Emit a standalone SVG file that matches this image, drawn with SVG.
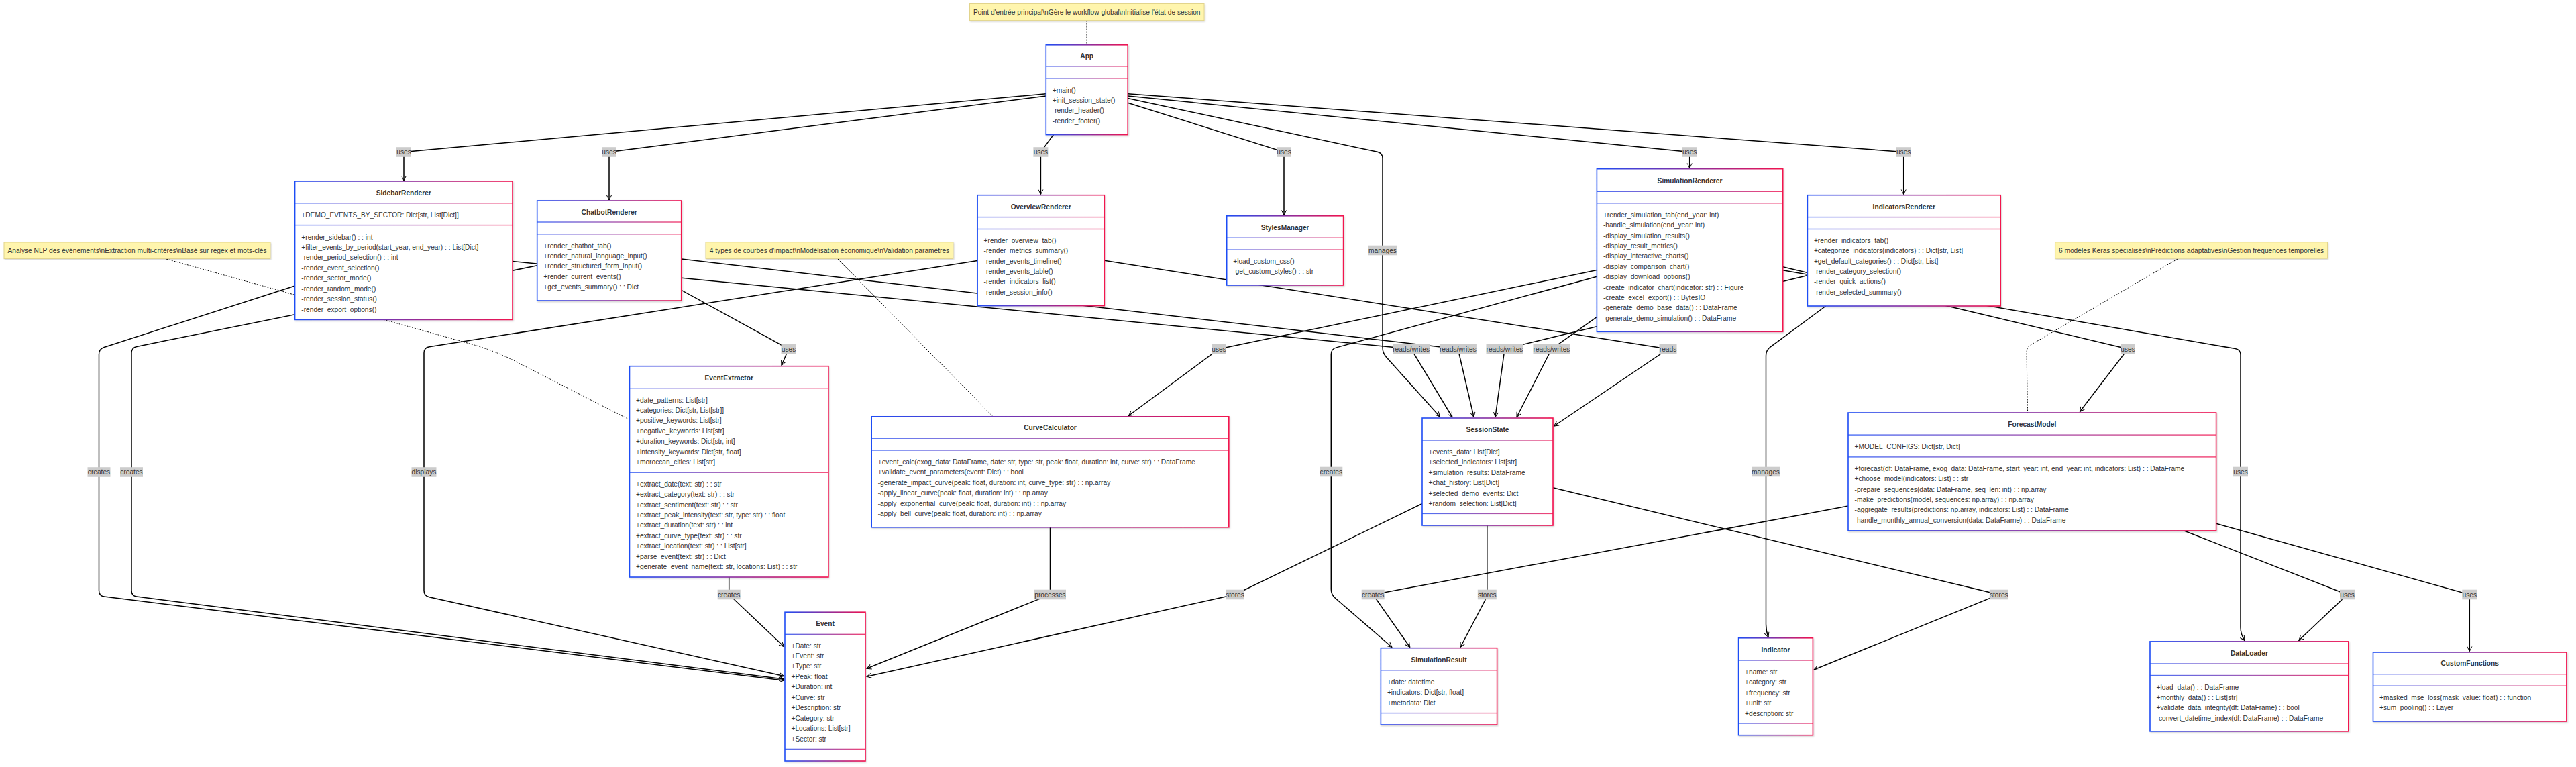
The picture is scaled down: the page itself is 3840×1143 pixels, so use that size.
<svg xmlns="http://www.w3.org/2000/svg" width="3840" height="1143" viewBox="0 0 3840 1143">
<style>
.box{fill:#fff;stroke:url(#bg);stroke-width:1.6;filter:url(#sh)}
.dv{fill:url(#bg);opacity:.8}
.ti{font:bold 10.2px "Liberation Sans",Arial,sans-serif;fill:#333;text-anchor:middle;dominant-baseline:central}
.mb{font:10.2px "Liberation Sans",Arial,sans-serif;fill:#333;dominant-baseline:central}
.e{fill:none;stroke:#000;stroke-width:1.5;marker-end:url(#ar)}
.d{fill:none;stroke:#000;stroke-width:1;stroke-dasharray:2 2}
.lb rect{fill:#ccc}
.lb text{font:10.2px "Liberation Sans",Arial,sans-serif;fill:#333;text-anchor:middle;dominant-baseline:central}
.nr{fill:#fff5ad;stroke:#e2d48c;stroke-width:1;filter:url(#sh)}
.nt{font:10.2px "Liberation Sans",Arial,sans-serif;fill:#333;text-anchor:middle;dominant-baseline:central}
</style>
<defs>
<linearGradient id="bg" x1="0" y1="0" x2="1" y2="0"><stop offset="0" stop-color="#1f4df5"/><stop offset="1" stop-color="#f2124e"/></linearGradient>
<filter id="sh" x="-5%" y="-5%" width="110%" height="115%"><feDropShadow dx="1" dy="1.5" stdDeviation="1.2" flood-color="#000" flood-opacity="0.18"/></filter>
<marker id="ar" markerUnits="userSpaceOnUse" markerWidth="10" markerHeight="10" refX="8" refY="4.5" orient="auto"><path d="M1,1 L8,4.5 L1,8" fill="none" stroke="#000" stroke-width="1"/></marker>
</defs>
<rect width="3840" height="1143" fill="#fff"/>
<g id="connectors">
<path class="d" d="M1620,30.6 L1620,66.8"/>
<path class="d" d="M248,386 L700,512 Q740,523 775,542 L938.5,625.5"/>
<path class="d" d="M1249,386 L1480.4,620.8"/>
<path class="d" d="M3246,386 L3027,514 Q3021,518 3021,526 L3022.6,615"/>
<path class="e" d="M1559.3,139.7 L602,226.5 L602,269"/>
<path class="e" d="M1559.3,143 L908,226.5 L908,298"/>
<path class="e" d="M1570.4,200.6 L1551.4,226.5 L1551.4,289.5"/>
<path class="e" d="M1681.2,153.2 L1914,226.5 L1914,320.5"/>
<path class="e" d="M1681.2,143 L2518.7,226.5 L2518.7,250.5"/>
<path class="e" d="M1681.2,139.7 L2837.7,226.5 L2837.7,289.5"/>
<path class="e" d="M1681.2,146.6 L2053.2,226.3 Q2061,228 2061,236 L2061,518 Q2061,526 2066.4,531.9 L2146.4,621"/>
<path class="e" d="M439.6,426 L155.1,517.5 Q147.5,520 147.5,528 L147.5,880 Q147.5,888 155.4,889 L1168.5,1014"/>
<path class="e" d="M800.7,395.8 L203.8,516.4 Q196,518 196,526 L196,880 Q196,888 203.9,889 L1168.5,1012"/>
<path class="e" d="M1457,388.5 L639.9,516.8 Q632,518 632,526 L632,880 Q632,888 639.8,889.7 L1168.5,1007.5"/>
<path class="e" d="M1015.7,432.3 L1175.5,520 L1165,544.5"/>
<path class="e" d="M764,389.6 L2103.6,520 L2164.8,621.5"/>
<path class="e" d="M1015.7,386 L2173.4,520 L2197,621.5"/>
<path class="e" d="M2694.4,410.4 L2243,520 L2229,621.5"/>
<path class="e" d="M2380.4,472.4 L2313,520 L2261,621.5"/>
<path class="e" d="M1646.3,388.3 L2486.5,520 L2316.5,635"/>
<path class="e" d="M2380.4,402.5 L1817,520 L1682.4,619.5"/>
<path class="e" d="M2380.4,412.2 L1992,517.9 Q1984.3,520 1984.3,528 L1984.3,878 Q1984.3,886 1990.4,891.2 L2074.9,964.5"/>
<path class="e" d="M2657.7,397.7 L3172,520 L3100.4,613.5"/>
<path class="e" d="M2657.7,402.7 L3332.1,519.6 Q3340,521 3340,529 L3340,935 Q3340,945 3346,954.5"/>
<path class="e" d="M2721.7,456 L2638.9,517.2 Q2632.5,522 2632.5,530 L2632.5,930 Q2632.5,940 2636,949.5"/>
<path class="e" d="M1086.7,860 L1086.7,886 L1168.5,963.5"/>
<path class="e" d="M1565.5,785.8 L1565.5,886 L1292,996.3"/>
<path class="e" d="M2120,750.5 L1841,886 L1292,1008.3"/>
<path class="e" d="M2755,754.1 L2046.7,886 L2101.8,964.5"/>
<path class="e" d="M2216.8,783 L2216.8,878 Q2216.8,886 2214,894 L2177,964.5"/>
<path class="e" d="M2315,726.8 L2979.8,886 L2704,998"/>
<path class="e" d="M3255.9,791 L3499,886 L3426.7,954.5"/>
<path class="e" d="M3303.6,780.3 L3681.3,886 L3681.3,970.5"/>
</g>
<g id="node-App">
<rect class="box" x="1559.3" y="66.8" width="121.9" height="133.8"/>
<rect class="dv" x="1559.3" y="98.2" width="121.9" height="1.4"/>
<rect class="dv" x="1559.3" y="116.4" width="121.9" height="1.4"/>
<text class="ti" x="1620.2" y="83.5">App</text>
<text class="mb" x="1568.8" y="134.2">+main()</text>
<text class="mb" x="1568.8" y="149.5">+init_session_state()</text>
<text class="mb" x="1568.8" y="164.9">-render_header()</text>
<text class="mb" x="1568.8" y="180.2">-render_footer()</text>
</g>
<g id="node-SidebarRenderer">
<rect class="box" x="439.6" y="270" width="324.4" height="206.4"/>
<rect class="dv" x="439.6" y="302.1" width="324.4" height="1.4"/>
<rect class="dv" x="439.6" y="334.9" width="324.4" height="1.4"/>
<text class="ti" x="601.8" y="287.5">SidebarRenderer</text>
<text class="mb" x="449.3" y="320.3">+DEMO_EVENTS_BY_SECTOR: Dict[str, List[Dict]]</text>
<text class="mb" x="449.3" y="353">+render_sidebar() : : int</text>
<text class="mb" x="449.3" y="368.5">+filter_events_by_period(start_year, end_year) : : List[Dict]</text>
<text class="mb" x="449.3" y="383.9">-render_period_selection() : : int</text>
<text class="mb" x="449.3" y="399.4">-render_event_selection()</text>
<text class="mb" x="449.3" y="414.8">-render_sector_mode()</text>
<text class="mb" x="449.3" y="430.3">-render_random_mode()</text>
<text class="mb" x="449.3" y="445.7">-render_session_status()</text>
<text class="mb" x="449.3" y="461.2">-render_export_options()</text>
</g>
<g id="node-ChatbotRenderer">
<rect class="box" x="800.7" y="299" width="215" height="149"/>
<rect class="dv" x="800.7" y="330.3" width="215" height="1.4"/>
<rect class="dv" x="800.7" y="348.1" width="215" height="1.4"/>
<text class="ti" x="908.2" y="316">ChatbotRenderer</text>
<text class="mb" x="810.3" y="366">+render_chatbot_tab()</text>
<text class="mb" x="810.3" y="381.3">+render_natural_language_input()</text>
<text class="mb" x="810.3" y="396.7">+render_structured_form_input()</text>
<text class="mb" x="810.3" y="412">+render_current_events()</text>
<text class="mb" x="810.3" y="427.4">+get_events_summary() : : Dict</text>
</g>
<g id="node-OverviewRenderer">
<rect class="box" x="1457.1" y="290.7" width="189.2" height="164.9"/>
<rect class="dv" x="1457.1" y="322.9" width="189.2" height="1.4"/>
<rect class="dv" x="1457.1" y="340.8" width="189.2" height="1.4"/>
<text class="ti" x="1551.7" y="308.3">OverviewRenderer</text>
<text class="mb" x="1466.6" y="358.2">+render_overview_tab()</text>
<text class="mb" x="1466.6" y="373.6">-render_metrics_summary()</text>
<text class="mb" x="1466.6" y="389">-render_events_timeline()</text>
<text class="mb" x="1466.6" y="404.4">-render_events_table()</text>
<text class="mb" x="1466.6" y="419.8">-render_indicators_list()</text>
<text class="mb" x="1466.6" y="435.2">-render_session_info()</text>
</g>
<g id="node-StylesManager">
<rect class="box" x="1828.7" y="321.8" width="173.9" height="103.2"/>
<rect class="dv" x="1828.7" y="353.5" width="173.9" height="1.4"/>
<rect class="dv" x="1828.7" y="371.4" width="173.9" height="1.4"/>
<text class="ti" x="1915.6" y="339.3">StylesManager</text>
<text class="mb" x="1838.2" y="389.2">+load_custom_css()</text>
<text class="mb" x="1838.2" y="404.8">-get_custom_styles() : : str</text>
</g>
<g id="node-SimulationRenderer">
<rect class="box" x="2380.4" y="251.7" width="277.3" height="242.6"/>
<rect class="dv" x="2380.4" y="284.6" width="277.3" height="1.4"/>
<rect class="dv" x="2380.4" y="302.1" width="277.3" height="1.4"/>
<text class="ti" x="2519" y="269.2">SimulationRenderer</text>
<text class="mb" x="2389.9" y="320.3">+render_simulation_tab(end_year: int)</text>
<text class="mb" x="2389.9" y="335.7">-handle_simulation(end_year: int)</text>
<text class="mb" x="2389.9" y="351.1">-display_simulation_results()</text>
<text class="mb" x="2389.9" y="366.5">-display_result_metrics()</text>
<text class="mb" x="2389.9" y="381.9">-display_interactive_charts()</text>
<text class="mb" x="2389.9" y="397.3">-display_comparison_chart()</text>
<text class="mb" x="2389.9" y="412.6">-display_download_options()</text>
<text class="mb" x="2389.9" y="428">-create_indicator_chart(indicator: str) : : Figure</text>
<text class="mb" x="2389.9" y="443.4">-create_excel_export() : : BytesIO</text>
<text class="mb" x="2389.9" y="458.8">-generate_demo_base_data() : : DataFrame</text>
<text class="mb" x="2389.9" y="474.2">-generate_demo_simulation() : : DataFrame</text>
</g>
<g id="node-IndicatorsRenderer">
<rect class="box" x="2694.4" y="290.7" width="287.8" height="165.3"/>
<rect class="dv" x="2694.4" y="322.9" width="287.8" height="1.4"/>
<rect class="dv" x="2694.4" y="340.8" width="287.8" height="1.4"/>
<text class="ti" x="2838.3" y="308.3">IndicatorsRenderer</text>
<text class="mb" x="2703.9" y="358.2">+render_indicators_tab()</text>
<text class="mb" x="2703.9" y="373.6">+categorize_indicators(indicators) : : Dict[str, List]</text>
<text class="mb" x="2703.9" y="389">+get_default_categories() : : Dict[str, List]</text>
<text class="mb" x="2703.9" y="404.4">-render_category_selection()</text>
<text class="mb" x="2703.9" y="419.8">-render_quick_actions()</text>
<text class="mb" x="2703.9" y="435.2">-render_selected_summary()</text>
</g>
<g id="node-EventExtractor">
<rect class="box" x="938.5" y="545.7" width="296.4" height="314.3"/>
<rect class="dv" x="938.5" y="578.6" width="296.4" height="1.4"/>
<rect class="dv" x="938.5" y="703.5" width="296.4" height="1.4"/>
<text class="ti" x="1086.7" y="563">EventExtractor</text>
<text class="mb" x="948" y="596">+date_patterns: List[str]</text>
<text class="mb" x="948" y="611.4">+categories: Dict[str, List[str]]</text>
<text class="mb" x="948" y="626.8">+positive_keywords: List[str]</text>
<text class="mb" x="948" y="642.2">+negative_keywords: List[str]</text>
<text class="mb" x="948" y="657.6">+duration_keywords: Dict[str, int]</text>
<text class="mb" x="948" y="673">+intensity_keywords: Dict[str, float]</text>
<text class="mb" x="948" y="688.4">+moroccan_cities: List[str]</text>
<text class="mb" x="948" y="721.3">+extract_date(text: str) : : str</text>
<text class="mb" x="948" y="736.7">+extract_category(text: str) : : str</text>
<text class="mb" x="948" y="752.1">+extract_sentiment(text: str) : : str</text>
<text class="mb" x="948" y="767.5">+extract_peak_intensity(text: str, type: str) : : float</text>
<text class="mb" x="948" y="782.9">+extract_duration(text: str) : : int</text>
<text class="mb" x="948" y="798.3">+extract_curve_type(text: str) : : str</text>
<text class="mb" x="948" y="813.7">+extract_location(text: str) : : List[str]</text>
<text class="mb" x="948" y="829.1">+parse_event(text: str) : : Dict</text>
<text class="mb" x="948" y="844.5">+generate_event_name(text: str, locations: List) : : str</text>
</g>
<g id="node-CurveCalculator">
<rect class="box" x="1299.2" y="620.8" width="532.6" height="165"/>
<rect class="dv" x="1299.2" y="652.5" width="532.6" height="1.4"/>
<rect class="dv" x="1299.2" y="670.3" width="532.6" height="1.4"/>
<text class="ti" x="1565.5" y="637.9">CurveCalculator</text>
<text class="mb" x="1308.7" y="688.5">+event_calc(exog_data: DataFrame, date: str, type: str, peak: float, duration: int, curve: str) : : DataFrame</text>
<text class="mb" x="1308.7" y="703.9">+validate_event_parameters(event: Dict) : : bool</text>
<text class="mb" x="1308.7" y="719.3">-generate_impact_curve(peak: float, duration: int, curve_type: str) : : np.array</text>
<text class="mb" x="1308.7" y="734.7">-apply_linear_curve(peak: float, duration: int) : : np.array</text>
<text class="mb" x="1308.7" y="750.1">-apply_exponential_curve(peak: float, duration: int) : : np.array</text>
<text class="mb" x="1308.7" y="765.5">-apply_bell_curve(peak: float, duration: int) : : np.array</text>
</g>
<g id="node-Event">
<rect class="box" x="1170" y="912.2" width="120" height="221.8"/>
<rect class="dv" x="1170" y="944.6" width="120" height="1.4"/>
<rect class="dv" x="1170" y="1115.7" width="120" height="1.4"/>
<text class="ti" x="1230" y="929.3">Event</text>
<text class="mb" x="1179.5" y="962">+Date: str</text>
<text class="mb" x="1179.5" y="977.5">+Event: str</text>
<text class="mb" x="1179.5" y="992.9">+Type: str</text>
<text class="mb" x="1179.5" y="1008.4">+Peak: float</text>
<text class="mb" x="1179.5" y="1023.8">+Duration: int</text>
<text class="mb" x="1179.5" y="1039.3">+Curve: str</text>
<text class="mb" x="1179.5" y="1054.8">+Description: str</text>
<text class="mb" x="1179.5" y="1070.2">+Category: str</text>
<text class="mb" x="1179.5" y="1085.7">+Locations: List[str]</text>
<text class="mb" x="1179.5" y="1101.1">+Sector: str</text>
</g>
<g id="node-SessionState">
<rect class="box" x="2120" y="623" width="195" height="160"/>
<rect class="dv" x="2120" y="655.3" width="195" height="1.4"/>
<rect class="dv" x="2120" y="764.7" width="195" height="1.4"/>
<text class="ti" x="2217.5" y="640">SessionState</text>
<text class="mb" x="2129.5" y="673">+events_data: List[Dict]</text>
<text class="mb" x="2129.5" y="688.5">+selected_indicators: List[str]</text>
<text class="mb" x="2129.5" y="704">+simulation_results: DataFrame</text>
<text class="mb" x="2129.5" y="719.5">+chat_history: List[Dict]</text>
<text class="mb" x="2129.5" y="735">+selected_demo_events: Dict</text>
<text class="mb" x="2129.5" y="750.5">+random_selection: List[Dict]</text>
</g>
<g id="node-SimulationResult">
<rect class="box" x="2058.4" y="965.7" width="173.2" height="114.3"/>
<rect class="dv" x="2058.4" y="998.1" width="173.2" height="1.4"/>
<rect class="dv" x="2058.4" y="1061.9" width="173.2" height="1.4"/>
<text class="ti" x="2145" y="983.2">SimulationResult</text>
<text class="mb" x="2067.9" y="1016">+date: datetime</text>
<text class="mb" x="2067.9" y="1031.5">+indicators: Dict[str, float]</text>
<text class="mb" x="2067.9" y="1047">+metadata: Dict</text>
</g>
<g id="node-Indicator">
<rect class="box" x="2591.6" y="950.8" width="110.8" height="144.9"/>
<rect class="dv" x="2591.6" y="983.3" width="110.8" height="1.4"/>
<rect class="dv" x="2591.6" y="1077.3" width="110.8" height="1.4"/>
<text class="ti" x="2647" y="968">Indicator</text>
<text class="mb" x="2601.1" y="1001.4">+name: str</text>
<text class="mb" x="2601.1" y="1016.8">+category: str</text>
<text class="mb" x="2601.1" y="1032.2">+frequency: str</text>
<text class="mb" x="2601.1" y="1047.6">+unit: str</text>
<text class="mb" x="2601.1" y="1063">+description: str</text>
</g>
<g id="node-ForecastModel">
<rect class="box" x="2755" y="615" width="548.6" height="175.9"/>
<rect class="dv" x="2755" y="647.4" width="548.6" height="1.4"/>
<rect class="dv" x="2755" y="680.2" width="548.6" height="1.4"/>
<text class="ti" x="3029.3" y="632.1">ForecastModel</text>
<text class="mb" x="2764.5" y="665.2">+MODEL_CONFIGS: Dict[str, Dict]</text>
<text class="mb" x="2764.5" y="698.4">+forecast(df: DataFrame, exog_data: DataFrame, start_year: int, end_year: int, indicators: List) : : DataFrame</text>
<text class="mb" x="2764.5" y="713.8">+choose_model(indicators: List) : : str</text>
<text class="mb" x="2764.5" y="729.1">-prepare_sequences(data: DataFrame, seq_len: int) : : np.array</text>
<text class="mb" x="2764.5" y="744.5">-make_predictions(model, sequences: np.array) : : np.array</text>
<text class="mb" x="2764.5" y="759.8">-aggregate_results(predictions: np.array, indicators: List) : : DataFrame</text>
<text class="mb" x="2764.5" y="775.2">-handle_monthly_annual_conversion(data: DataFrame) : : DataFrame</text>
</g>
<g id="node-DataLoader">
<rect class="box" x="3205" y="955.9" width="295.8" height="134"/>
<rect class="dv" x="3205" y="988.3" width="295.8" height="1.4"/>
<rect class="dv" x="3205" y="1005.8" width="295.8" height="1.4"/>
<text class="ti" x="3352.9" y="973">DataLoader</text>
<text class="mb" x="3214.5" y="1024">+load_data() : : DataFrame</text>
<text class="mb" x="3214.5" y="1039.4">+monthly_data() : : List[str]</text>
<text class="mb" x="3214.5" y="1054.8">+validate_data_integrity(df: DataFrame) : : bool</text>
<text class="mb" x="3214.5" y="1070.2">-convert_datetime_index(df: DataFrame) : : DataFrame</text>
</g>
<g id="node-CustomFunctions">
<rect class="box" x="3537.5" y="972" width="288.4" height="103"/>
<rect class="dv" x="3537.5" y="1004" width="288.4" height="1.4"/>
<rect class="dv" x="3537.5" y="1021.5" width="288.4" height="1.4"/>
<text class="ti" x="3681.7" y="988.3">CustomFunctions</text>
<text class="mb" x="3547" y="1039.3">+masked_mse_loss(mask_value: float) : : function</text>
<text class="mb" x="3547" y="1054.6">+sum_pooling() : : Layer</text>
</g>
<g id="note-App">
<rect class="nr" x="1445.5" y="5.5" width="349.5" height="25.1"/>
<text class="nt" x="1620.2" y="18">Point d'entrée principal\nGère le workflow global\nInitialise l'état de session</text>
</g>
<g id="note-EventExtractor">
<rect class="nr" x="6" y="361" width="397" height="24.5"/>
<text class="nt" x="204.5" y="373.3">Analyse NLP des événements\nExtraction multi-critères\nBasé sur regex et mots-clés</text>
</g>
<g id="note-CurveCalculator">
<rect class="nr" x="1052" y="360.8" width="369" height="24.6"/>
<text class="nt" x="1236.5" y="373.1">4 types de courbes d'impact\nModélisation économique\nValidation paramètres</text>
</g>
<g id="note-ForecastModel">
<rect class="nr" x="3063.7" y="360.8" width="405.8" height="24.4"/>
<text class="nt" x="3266.6" y="373">6 modèles Keras spécialisés\nPrédictions adaptatives\nGestion fréquences temporelles</text>
</g>
<g id="edge-labels" class="lb">
<rect x="591" y="219.2" width="22" height="14.6"/><text x="602" y="226.5">uses</text>
<rect x="897" y="219.2" width="22" height="14.6"/><text x="908" y="226.5">uses</text>
<rect x="1540.4" y="219.2" width="22" height="14.6"/><text x="1551.4" y="226.5">uses</text>
<rect x="1903" y="219.2" width="22" height="14.6"/><text x="1914" y="226.5">uses</text>
<rect x="2507.7" y="219.2" width="22" height="14.6"/><text x="2518.7" y="226.5">uses</text>
<rect x="2826.7" y="219.2" width="22" height="14.6"/><text x="2837.7" y="226.5">uses</text>
<rect x="2040" y="365.7" width="42" height="14.6"/><text x="2061" y="373">manages</text>
<rect x="130.5" y="696.2" width="34" height="14.6"/><text x="147.5" y="703.5">creates</text>
<rect x="179" y="696.2" width="34" height="14.6"/><text x="196" y="703.5">creates</text>
<rect x="613.5" y="696.2" width="37" height="14.6"/><text x="632" y="703.5">displays</text>
<rect x="1164.5" y="512.7" width="22" height="14.6"/><text x="1175.5" y="520">uses</text>
<rect x="1806" y="512.7" width="22" height="14.6"/><text x="1817" y="520">uses</text>
<rect x="2076.1" y="512.7" width="55" height="14.6"/><text x="2103.6" y="520">reads/writes</text>
<rect x="2145.9" y="512.7" width="55" height="14.6"/><text x="2173.4" y="520">reads/writes</text>
<rect x="2215.5" y="512.7" width="55" height="14.6"/><text x="2243" y="520">reads/writes</text>
<rect x="2285.5" y="512.7" width="55" height="14.6"/><text x="2313" y="520">reads/writes</text>
<rect x="2473.5" y="512.7" width="26" height="14.6"/><text x="2486.5" y="520">reads</text>
<rect x="3161" y="512.7" width="22" height="14.6"/><text x="3172" y="520">uses</text>
<rect x="1967.3" y="695.7" width="34" height="14.6"/><text x="1984.3" y="703">creates</text>
<rect x="2611" y="695.7" width="42" height="14.6"/><text x="2632" y="703">manages</text>
<rect x="3329" y="695.7" width="22" height="14.6"/><text x="3340" y="703">uses</text>
<rect x="1069.7" y="878.7" width="34" height="14.6"/><text x="1086.7" y="886">creates</text>
<rect x="1542" y="878.7" width="47" height="14.6"/><text x="1565.5" y="886">processes</text>
<rect x="1827" y="878.7" width="28" height="14.6"/><text x="1841" y="886">stores</text>
<rect x="2029.7" y="878.7" width="34" height="14.6"/><text x="2046.7" y="886">creates</text>
<rect x="2202.8" y="878.7" width="28" height="14.6"/><text x="2216.8" y="886">stores</text>
<rect x="2965.8" y="878.7" width="28" height="14.6"/><text x="2979.8" y="886">stores</text>
<rect x="3488" y="878.7" width="22" height="14.6"/><text x="3499" y="886">uses</text>
<rect x="3670.3" y="878.7" width="22" height="14.6"/><text x="3681.3" y="886">uses</text>
</g>
</svg>
